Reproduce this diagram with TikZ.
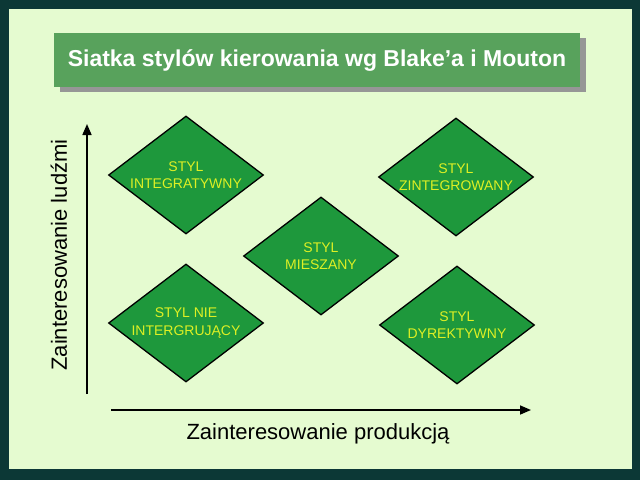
\documentclass[tikz,border=0pt]{standalone}
\usepackage{fontspec}
\setmainfont{Liberation Sans}
\usetikzlibrary{shapes.geometric,arrows.meta}
\definecolor{framec}{RGB}{12,56,54}
\definecolor{bgc}{RGB}{229,251,208}
\definecolor{titlec}{RGB}{88,162,92}
\definecolor{shadowc}{RGB}{150,150,150}
\definecolor{diafill}{RGB}{30,152,60}
\definecolor{diatext}{RGB}{222,240,36}
\tikzset{
  stylebox/.style={diamond, draw=black, line width=1.3pt, fill=diafill,
    minimum width=155pt, minimum height=118pt, aspect=1.31, inner sep=0pt,
    text=diatext, align=center, font=\fontsize{14}{17.5}\selectfont},
  axisline/.style={line width=1.6pt, -{Triangle[length=11pt,width=9pt]}},
  axislabel/.style={font=\fontsize{22}{26}\selectfont, text=black}
}
\begin{document}
\begin{tikzpicture}[x=1pt,y=-1pt]
\useasboundingbox (0,0) rectangle (640,480);
\fill[framec] (0,0) rectangle (640,480);
\fill[bgc] (9,9) rectangle (632,469);
% title
\fill[shadowc] (60,38) rectangle (586,92);
\node[fill=titlec, minimum width=526pt, minimum height=54pt, inner sep=0pt,
  text=white, font=\bfseries\fontsize{23}{27}\selectfont] (title) at (317,60)
  {Siatka stylów kierowania wg Blake’a i Mouton};
% diamonds
\node[stylebox] (integr) at (186,175) {STYL\\INTEGRATYWNY};
\node[stylebox] (zinteg) at (456,177) {STYL\\ZINTEGROWANY};
\node[stylebox] (miesz) at (321,256) {STYL\\MIESZANY};
\node[stylebox] (nie) at (186,323) {STYL NIE\\INTERGRUJĄCY};
\node[stylebox] (dyrek) at (457,325) {STYL\\DYREKTYWNY};
% axes
\coordinate (ybot) at (87,394);
\coordinate (ytop) at (87,124);
\coordinate (xleft) at (111,410);
\coordinate (xright) at (531,410);
\draw[axisline] (ybot) -- (ytop);
\draw[axisline] (xleft) -- (xright);
\node[axislabel] (xlab) at (318,434) {Zainteresowanie produkcją};
\node[axislabel, rotate=90] (ylab) at (59,255) {Zainteresowanie ludźmi};
\end{tikzpicture}
\end{document}
